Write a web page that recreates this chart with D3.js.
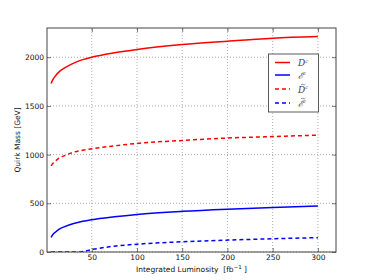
<!DOCTYPE html>
<html>
<head>
<meta charset="utf-8">
<script src="https://cdn.jsdelivr.net/npm/d3@7"></script>
<style>
  body { margin: 0; background: #fff; }
  svg { display: block; font-family: "DejaVu Sans", sans-serif; }
</style>
</head>
<body>
<svg id="chart" width="374" height="280"></svg>
<script>
const lumi = [5, 7, 10, 15, 20, 30, 40, 50, 75, 100, 150, 200, 250, 300];
const dSolid = [1730, 1770, 1810, 1860, 1890, 1940, 1975, 2000, 2045, 2080, 2130, 2165, 2195, 2212];
const eSolid = [150, 180, 205, 240, 260, 292, 315, 332, 362, 386, 418, 440, 457, 472];
const dTilde = [885, 910, 935, 970, 990, 1025, 1045, 1060, 1090, 1115, 1145, 1170, 1185, 1200];
const eTildeLumi = [5, 20, 35, 40, 50, 75, 100, 150, 200, 250, 300];
const eTilde = [0, 0, 0, 5, 25, 60, 80, 105, 122, 136, 147];

const xTicks = [50, 100, 150, 200, 250, 300];
const yTicks = [0, 500, 1000, 1500, 2000];

const series = [
  { name: 'D', tilde: false, color: '#ff0000', dash: null, xs: lumi, ys: dSolid },
  { name: 'E', tilde: false, color: '#0000ff', dash: null, xs: lumi, ys: eSolid },
  { name: 'D', tilde: true, color: '#ff0000', dash: '4,3', xs: lumi, ys: dTilde },
  { name: 'E', tilde: true, color: '#0000ff', dash: '4,3', xs: eTildeLumi, ys: eTilde },
];

const margin = { left: 47, top: 28, right: 38, bottom: 28 };
const width = 374, height = 280;
const svg = d3.select('#chart');

const x = d3.scaleLinear().domain([0.5, 320]).range([margin.left, width - margin.right]);
const y = d3.scaleLinear().domain([0, 2300]).range([height - margin.bottom, margin.top]);

const plot = svg.append('g');

// grid
plot.append('g').selectAll('line').data(xTicks).join('line')
  .attr('x1', (d) => x(d)).attr('x2', (d) => x(d))
  .attr('y1', y(0)).attr('y2', y(2300))
  .attr('stroke', '#999').attr('stroke-dasharray', '1,2').attr('stroke-width', 0.8);
plot.append('g').selectAll('line').data(yTicks).join('line')
  .attr('y1', (d) => y(d)).attr('y2', (d) => y(d))
  .attr('x1', x(0.5)).attr('x2', x(320))
  .attr('stroke', '#999').attr('stroke-dasharray', '1,2').attr('stroke-width', 0.8);

// curves
svg.append('clipPath').attr('id', 'clip').append('rect')
  .attr('x', x(0.5)).attr('y', y(2300))
  .attr('width', x(320) - x(0.5)).attr('height', y(0) - y(2300));

const line = d3.line().curve(d3.curveMonotoneX);
series.forEach((s) => {
  plot.append('path')
    .attr('clip-path', 'url(#clip)')
    .attr('d', line(s.xs.map((v, i) => [x(v), y(s.ys[i])])))
    .attr('fill', 'none')
    .attr('stroke', s.color)
    .attr('stroke-width', 1.5)
    .attr('stroke-dasharray', s.dash);
});

// axes (ticks inward, on all sides)
const fontSize = '7.5px';
const fmt = d3.format('d');
const axBottom = svg.append('g').attr('transform', `translate(0,${y(0)})`)
  .call(d3.axisBottom(x).tickValues(xTicks).tickFormat(fmt).tickSizeInner(-4).tickSizeOuter(0).tickPadding(3));
const axTop = svg.append('g').attr('transform', `translate(0,${y(2300)})`)
  .call(d3.axisTop(x).tickValues(xTicks).tickSizeInner(-4).tickSizeOuter(0).tickFormat(''));
const axLeft = svg.append('g').attr('transform', `translate(${x(0.5)},0)`)
  .call(d3.axisLeft(y).tickValues(yTicks).tickFormat(fmt).tickSizeInner(-4).tickSizeOuter(0).tickPadding(3));
const axRight = svg.append('g').attr('transform', `translate(${x(320)},0)`)
  .call(d3.axisRight(y).tickValues(yTicks).tickSizeInner(-4).tickSizeOuter(0).tickFormat(''));

[axBottom, axTop, axLeft, axRight].forEach((g) => {
  g.select('.domain').remove();
  g.selectAll('.tick line').attr('stroke', '#222').attr('stroke-width', 0.6);
  g.selectAll('text').attr('font-size', fontSize).attr('fill', '#111')
    .attr('font-family', '"DejaVu Sans", sans-serif');
});

svg.append('rect')
  .attr('x', x(0.5)).attr('y', y(2300))
  .attr('width', x(320) - x(0.5)).attr('height', y(0) - y(2300))
  .attr('fill', 'none').attr('stroke', '#444').attr('stroke-width', 1);

// axis titles
const xTitle = svg.append('text')
  .attr('x', (x(0.5) + x(320)) / 2).attr('y', 272)
  .attr('text-anchor', 'middle').attr('font-size', fontSize).attr('fill', '#111');
xTitle.append('tspan').text('Integrated Luminosity\u00a0\u00a0[fb');
xTitle.append('tspan').attr('dy', -3).attr('font-size', '5.5px').text('\u22121');
xTitle.append('tspan').attr('dy', 3).text('\u00a0]');

svg.append('text')
  .attr('transform', `translate(20,${(y(0) + y(2300)) / 2}) rotate(-90)`)
  .attr('text-anchor', 'middle').attr('font-size', fontSize).attr('fill', '#111')
  .text('Quirk Mass [GeV]');

// legend
const legend = svg.append('g');
legend.append('rect')
  .attr('x', 268.5).attr('y', 54).attr('width', 50).attr('height', 58)
  .attr('fill', '#fff').attr('stroke', '#333').attr('stroke-width', 0.8);
const rowY = [62.5, 75, 89, 103];
series.forEach((s, i) => {
  legend.append('line')
    .attr('x1', 275).attr('x2', 290).attr('y1', rowY[i]).attr('y2', rowY[i])
    .attr('stroke', s.color).attr('stroke-width', 1.5)
    .attr('stroke-dasharray', s.dash);
  const t = legend.append('text')
    .attr('x', 298).attr('y', rowY[i] + 3.5)
    .attr('font-family', '"DejaVu Serif", serif')
    .attr('font-style', 'italic')
    .attr('font-size', '9px').attr('fill', '#444');
  t.append('tspan').text(s.name === 'D' ? 'D' : '\u2130');
  t.append('tspan').attr('dy', -3.5).attr('font-size', '5px').text('c');
  if (s.tilde) {
    // small tilde accent above the letter
    legend.append('path')
      .attr('d', `M${301},${rowY[i] - 4} q1,-1.5 2.2,-0.5 t2.2,-0.5`)
      .attr('fill', 'none').attr('stroke', '#444').attr('stroke-width', 0.6);
  }
});
</script>
</body>
</html>
